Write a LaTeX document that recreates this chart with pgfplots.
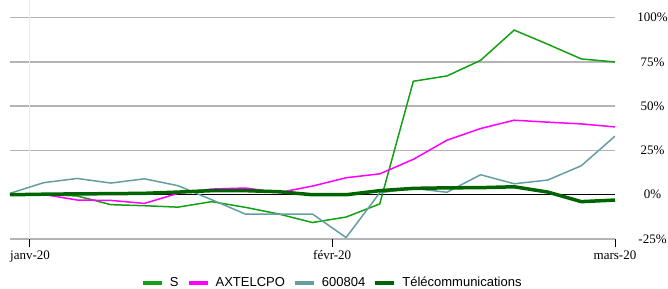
\documentclass[border=0pt]{standalone}
\usepackage{fontspec}
\setmainfont{Liberation Serif}
\newfontfamily\legendfont{Liberation Sans}
\usepackage{pgfplots}
\pgfplotsset{compat=1.18}
\definecolor{sgreen}{RGB}{20,160,20}
\definecolor{axmag}{RGB}{255,0,255}
\definecolor{tealsix}{RGB}{100,158,160}
\definecolor{telgreen}{RGB}{0,100,0}
\definecolor{gridgray}{RGB}{180,180,180}
\begin{document}
\begin{tikzpicture}
\useasboundingbox (-10bp,-50bp) rectangle (658bp,239bp);
\begin{axis}[
  at={(0,0)}, anchor=south west,
  scale only axis, width=605bp, height=239bp,
  xmin=0, xmax=18, ymin=-25, ymax=110,
  axis line style={draw=none},
  xtick={0.595,9.587,18}, xticklabels={janv-20,févr-20,mars-20},
  xtick pos=left, tick align=outside, major tick length=8bp,
  xtick style={draw=black, line width=1bp},
  ytick={-25,0,25,50,75,100}, yticklabels={-25\%,0\%,25\%,50\%,75\%,100\%},
  ytick style={draw=none}, ytick pos=right, yticklabel pos=right,
  ymajorgrids, grid style={gridgray, line width=1.5bp},
  extra y ticks={0}, extra y tick labels={},
  extra y tick style={grid style={black, line width=1.5bp}},
  extra x ticks={0.595}, extra x tick labels={},
  extra x tick style={grid=major, grid style={black!8, line width=1bp}},
  ticklabel style={font=\fontsize{13bp}{15bp}\selectfont},
  yticklabel style={anchor=center, xshift=29.5bp},
  legend columns=4,
  legend style={at={(0.531,0)}, anchor=center, yshift=-43.5bp, draw=none, fill=none,
    font=\legendfont\fontsize{13bp}{15bp}\selectfont, inner sep=0pt,
    nodes={inner sep=0pt},
    /tikz/every odd column/.append style={column sep=6bp},
    /tikz/every even column/.append style={column sep=8bp}},
  legend image code/.code={\draw[#1, line width=4bp] (0bp,0bp) -- (19bp,0bp);},
]
\addplot[sgreen, line width=1.5bp] coordinates {
(0,0) (1,0.2) (2,-0.7) (3,-5.6) (4,-6.2) (5,-7.0) (6,-3.9) (7,-7.1) (8,-10.9) (9,-15.7)
(10,-12.6) (11,-5.2) (12,64.1) (13,67.1) (14,75.9) (15,93.0) (16,85.0) (17,76.7) (18,75.0)};
\addlegendentry{S}
\addplot[axmag, line width=1.5bp] coordinates {
(0,0.5) (1,0.2) (2,-3.0) (3,-3.2) (4,-4.9) (5,0.8) (6,3.2) (7,3.8) (8,1.2) (9,4.9)
(10,9.6) (11,11.8) (12,20.0) (13,30.8) (14,37.4) (15,42.1) (16,41.0) (17,40.0) (18,38.3)};
\addlegendentry{AXTELCPO}
\addplot[tealsix, line width=1.5bp] coordinates {
(0,0.8) (1,6.8) (2,9.2) (3,6.6) (4,9.0) (5,5.1) (6,-2.8) (7,-10.9) (8,-10.9) (9,-10.9)
(10,-24.2) (11,1.1) (12,3.6) (13,1.4) (14,11.3) (15,6.2) (16,8.3) (17,16.4) (18,33.1)};
\addlegendentry{600804}
\addplot[telgreen, line width=3.5bp] coordinates {
(0,0) (1,0.3) (2,0.5) (3,0.6) (4,0.8) (5,1.5) (6,2.3) (7,2.3) (8,1.7) (9,0)
(10,0) (11,2.3) (12,3.6) (13,3.9) (14,4.0) (15,4.5) (16,1.5) (17,-3.9) (18,-3.0)};
\addlegendentry{Télécommunications}
\end{axis}
\end{tikzpicture}
\end{document}
